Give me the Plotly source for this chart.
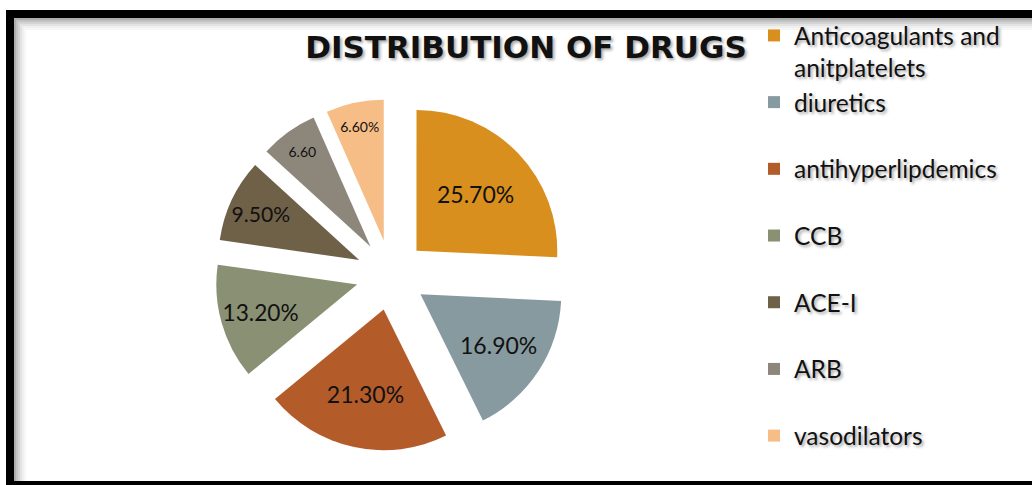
import plotly.graph_objects as go

# ---- data ----
categories = ["Anticoagulants and<br>anitplatelets", "diuretics<br> ", "antihyperlipdemics<br> ",
              "CCB<br> ", "ACE-I<br> ", "ARB<br> ", "vasodilators"]
values = [25.7, 16.9, 21.3, 13.2, 9.5, 6.6, 6.6]
slice_labels = ["25.70%", "16.90%", "21.30%", "13.20%", "9.50%", "6.60", "6.60%"]
colors = ["#D98F1D", "#879A9F", "#B45B2A", "#8A9073", "#6F6048", "#8D877B", "#F6BD87"]
label_sizes = [23, 23, 23, 23, 23, 14, 14]

W, H = 1032, 485
SHADOW = "2px 2px 3px rgba(0,0,0,0.35)"

fig = go.Figure()
fig.add_trace(go.Pie(
    labels=categories,
    values=values,
    text=slice_labels,
    textinfo="text",
    textposition="inside",
    insidetextorientation="horizontal",
    textfont=dict(family="Lato", size=label_sizes, color="#111111"),
    marker=dict(colors=colors, line=dict(width=0)),
    pull=[0.25] * len(values),
    sort=False,
    direction="clockwise",
    rotation=0,
    domain=dict(x=[(391 - 176) / W, (391 + 176) / W],
                y=[(H - 275 - 176) / H, (H - 275 + 176) / H]),
    hoverinfo="label+percent",
))

shapes = []
# frame: black bands
shapes.append(dict(type="rect", xref="paper", yref="paper", x0=6 / W, x1=1.01,
                   y0=1 - 18 / H, y1=1 - 10 / H, fillcolor="black", line=dict(width=0), layer="above"))
shapes.append(dict(type="rect", xref="paper", yref="paper", x0=6 / W, x1=14 / W,
                   y0=-0.01, y1=1 - 10 / H, fillcolor="black", line=dict(width=0), layer="above"))
shapes.append(dict(type="rect", xref="paper", yref="paper", x0=6 / W, x1=1.01,
                   y0=-0.01, y1=4 / H, fillcolor="black", line=dict(width=0), layer="above"))
# inner soft shadow
for i, op in enumerate([0.32, 0.24, 0.17, 0.11, 0.06, 0.03]):
    shapes.append(dict(type="rect", xref="paper", yref="paper",
                       x0=(14 + 2 * i) / W, x1=(16 + 2 * i) / W, y0=4 / H, y1=1 - (18 + 2 * i) / H,
                       fillcolor="black", opacity=op, line=dict(width=0), layer="below"))
    shapes.append(dict(type="rect", xref="paper", yref="paper",
                       x0=(16 + 2 * i) / W, x1=1.01, y0=1 - (20 + 2 * i) / H, y1=1 - (18 + 2 * i) / H,
                       fillcolor="black", opacity=op, line=dict(width=0), layer="below"))

fig.update_layout(
    width=W, height=H,
    margin=dict(l=0, r=0, t=0, b=0),
    paper_bgcolor="white",
    plot_bgcolor="white",
    title=dict(text="<b>DISTRIBUTION OF DRUGS</b>", x=526 / W, xanchor="center",
               y=1 - 47 / H, yanchor="middle", yref="container",
               font=dict(family="DejaVu Sans", size=31, color="#111111", shadow=SHADOW)),
    legend=dict(x=754 / W, xanchor="left", y=1 - 13 / H, yanchor="top",
                valign="top", bgcolor="rgba(0,0,0,0)",
                font=dict(family="Lato", size=24.5, color="#111111", shadow=SHADOW)),
    shapes=shapes,
)

fig.write_html("out.html")
